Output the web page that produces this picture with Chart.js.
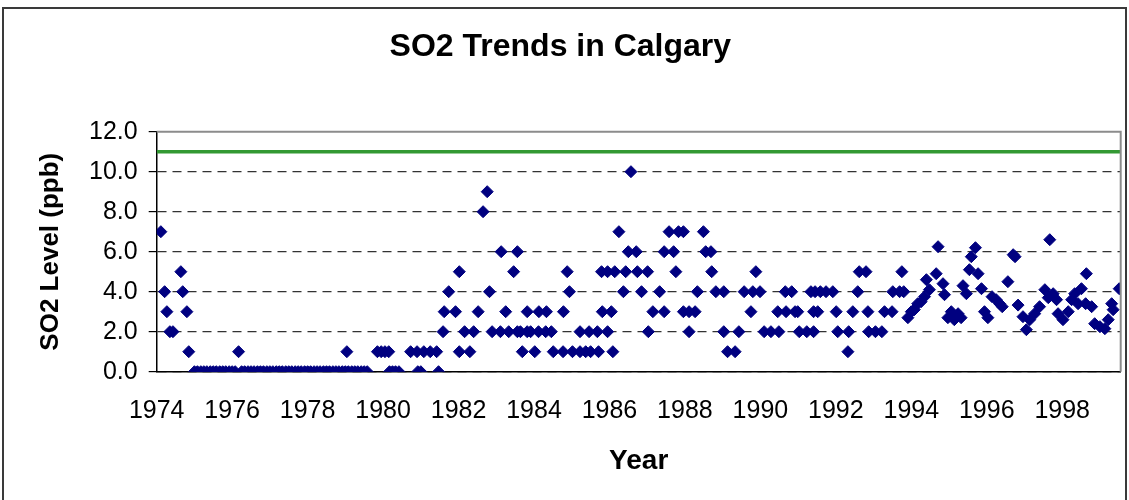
<!DOCTYPE html>
<html lang="en">
<head>
<meta charset="UTF-8" />
<title>SO2 Trends in Calgary</title>
<script src="https://cdn.jsdelivr.net/npm/chart.js@4"></script>
<style>
    body { margin: 0; background: #fff; }
    .chart-box { position: relative; width: 1129px; height: 500px; }
</style>
</head>
<body>
<div class="chart-box"><canvas id="so2Chart" width="1129" height="500"></canvas></div>
<script>
// sample dates (decimal years) and SO2 levels (ppb)
const years = [
    1974.11, 1974.21, 1974.27, 1974.35, 1974.43, 1974.64, 1974.69, 1974.80, 1974.85,
    1975.00, 1975.08, 1975.17, 1975.25, 1975.33, 1975.42, 1975.50, 1975.58, 1975.67, 1975.75, 1975.83, 1975.92,
    1976.00, 1976.08, 1976.17, 1976.25, 1976.33, 1976.42, 1976.50, 1976.58, 1976.67, 1976.75, 1976.83, 1976.92,
    1977.00, 1977.08, 1977.17, 1977.25, 1977.33, 1977.42, 1977.50, 1977.58, 1977.67, 1977.75, 1977.83, 1977.92,
    1978.00, 1978.08, 1978.17, 1978.25, 1978.33, 1978.42, 1978.50, 1978.58, 1978.67, 1978.75, 1978.83, 1978.92,
    1979.00, 1979.04, 1979.08, 1979.17, 1979.25, 1979.33, 1979.42, 1979.50, 1979.58,
    1979.85, 1979.95, 1980.05, 1980.15, 1980.17, 1980.25, 1980.33, 1980.42,
    1980.73, 1980.90, 1980.92, 1981.00, 1981.08, 1981.25, 1981.42, 1981.47,
    1981.59, 1981.62, 1981.74, 1981.92, 1982.02, 1982.02, 1982.16, 1982.30, 1982.40, 1982.52,
    1982.65, 1982.76, 1982.82, 1982.89, 1983.11, 1983.13, 1983.25, 1983.33, 1983.46, 1983.56,
    1983.56, 1983.64, 1983.69, 1983.82, 1983.82, 1983.91, 1984.02, 1984.12, 1984.13, 1984.31,
    1984.33, 1984.46, 1984.51, 1984.77, 1984.78, 1984.88, 1984.94, 1985.02, 1985.22, 1985.22,
    1985.37, 1985.46, 1985.50, 1985.68, 1985.71, 1985.79, 1985.81, 1985.95, 1985.95, 1986.05,
    1986.09, 1986.14, 1986.25, 1986.37, 1986.43, 1986.50, 1986.57, 1986.71, 1986.74, 1986.85,
    1987.01, 1987.03, 1987.15, 1987.33, 1987.45, 1987.45, 1987.58, 1987.70, 1987.76, 1987.83,
    1987.96, 1987.96, 1988.11, 1988.11, 1988.27, 1988.33, 1988.49, 1988.55, 1988.69, 1988.71,
    1988.82, 1989.03, 1989.03, 1989.13, 1989.33, 1989.43, 1989.57, 1989.75, 1989.80, 1989.88,
    1989.99, 1990.10, 1990.28, 1990.46, 1990.49, 1990.66, 1990.68, 1990.83, 1990.92, 1990.99,
    1991.03, 1991.23, 1991.34, 1991.41, 1991.41, 1991.45, 1991.52, 1991.59, 1991.74, 1991.92,
    1992.01, 1992.05, 1992.32, 1992.34, 1992.45, 1992.58, 1992.62, 1992.80, 1992.85, 1992.87,
    1993.05, 1993.22, 1993.29, 1993.49, 1993.51, 1993.69, 1993.75, 1993.80,
    1993.91, 1994.00, 1994.08, 1994.17, 1994.26, 1994.35, 1994.40, 1994.48, 1994.66, 1994.71,
    1994.84, 1994.88, 1994.97, 1995.06, 1995.14, 1995.24, 1995.32, 1995.37, 1995.46, 1995.54,
    1995.59, 1995.70, 1995.77, 1995.86, 1995.94, 1996.03, 1996.14, 1996.25, 1996.34, 1996.41,
    1996.56, 1996.70, 1996.75, 1996.83, 1996.96, 1997.05, 1997.14, 1997.27, 1997.40, 1997.54,
    1997.63, 1997.67, 1997.76, 1997.85, 1997.89, 1998.02, 1998.16, 1998.25, 1998.33, 1998.42,
    1998.51, 1998.64, 1998.62, 1998.78, 1998.86, 1999.00, 1999.13, 1999.22, 1999.31, 1999.35,
    1999.51
];
const so2Levels = [
    7, 4, 3, 2, 2, 5, 4, 3, 1,
    0, 0, 0, 0, 0, 0, 0, 0, 0, 0, 0, 0,
    0, 0, 1, 0, 0, 0, 0, 0, 0, 0, 0, 0,
    0, 0, 0, 0, 0, 0, 0, 0, 0, 0, 0, 0,
    0, 0, 0, 0, 0, 0, 0, 0, 0, 0, 0, 0,
    0, 1, 0, 0, 0, 0, 0, 0, 0,
    1, 1, 1, 1, 0, 0, 0, 0,
    1, 1, 0, 0, 1, 1, 1, 0,
    2, 3, 4, 3, 5, 1, 2, 1, 2, 3,
    8, 9, 4, 2, 2, 6, 3, 2, 5, 6,
    2, 2, 1, 3, 2, 2, 1, 2, 3, 2,
    3, 2, 1, 1, 3, 5, 4, 1, 1, 2,
    1, 2, 1, 2, 1, 5, 3, 2, 5, 3,
    1, 5, 7, 4, 5, 6, 10, 6, 5, 4,
    5, 2, 3, 4, 3, 6, 7, 6, 5, 7,
    7, 3, 3, 2, 3, 4, 7, 6, 6, 5,
    4, 4, 2, 1, 1, 2, 4, 3, 4, 5,
    4, 2, 2, 3, 2, 4, 3, 4, 3, 3,
    2, 2, 4, 2, 3, 4, 3, 4, 4, 4,
    3, 2, 1, 2, 3, 4, 5, 5, 3, 2,
    2, 2, 3, 3, 4, 4, 5, 4,
    2.7, 3.0, 3.1, 3.4, 3.5, 3.75, 4.6, 4.1, 4.9, 6.25,
    4.4, 3.85, 2.7, 3.0, 2.6, 2.9, 2.7, 4.3, 3.9, 5.1,
    5.75, 6.2, 4.9, 4.15, 3.0, 2.7, 3.75, 3.6, 3.4, 3.25,
    4.5, 5.85, 5.75, 3.33, 2.75, 2.1, 2.6, 2.9, 3.25, 4.1,
    3.7, 6.6, 3.9, 3.6, 2.9, 2.6, 3.0, 3.6, 3.9, 3.4,
    4.15, 4.9, 3.4, 3.25, 2.4, 2.25, 2.15, 2.6, 3.4, 3.1,
    4.15
];
const objectiveLevel = 11;
const yearRange = [1974, 1999.55];

const points = years.map((yr, i) => ({ x: yr, y: so2Levels[i] }));
const fontFamily = "'Liberation Sans', Arial, sans-serif";

// outer chart frame + grey plot-area border on top/right
const framePlugin = {
    id: "frame",
    afterDraw(chart) {
        const { ctx, chartArea: a } = chart;
        ctx.save();
        ctx.strokeStyle = "#8c8c8c";
        ctx.lineWidth = 2;
        ctx.beginPath();
        ctx.moveTo(a.left, a.top);
        ctx.lineTo(a.right, a.top);
        ctx.lineTo(a.right, a.bottom);
        ctx.stroke();
        ctx.strokeStyle = "#3a3a3a";
        ctx.lineWidth = 2;
        ctx.strokeRect(3, 8, 1123, 520);
        ctx.restore();
    },
};

new Chart(document.getElementById("so2Chart"), {
    type: "scatter",
    data: {
        datasets: [
            {
                label: "SO2",
                data: points,
                pointStyle: "rectRot",
                pointRadius: 6,
                borderWidth: 1,
                backgroundColor: "#000080",
                borderColor: "#000080",
            },
            {
                type: "line",
                label: "Objective",
                data: [
                    { x: yearRange[0], y: objectiveLevel },
                    { x: yearRange[1], y: objectiveLevel },
                ],
                borderColor: "#339933",
                borderWidth: 3.5,
                pointRadius: 0,
                fill: false,
            },
        ],
    },
    plugins: [framePlugin],
    options: {
        responsive: false,
        animation: false,
        layout: { padding: { left: 0, right: 8.3, top: 0, bottom: 0 } },
        plugins: {
            legend: { display: false },
            tooltip: { enabled: false },
            title: {
                display: true,
                text: "SO2 Trends in Calgary",
                color: "#000",
                font: { family: fontFamily, size: 32, weight: "bold" },
                padding: { top: 28, bottom: 65.3 },
            },
        },
        scales: {
            x: {
                type: "linear",
                min: yearRange[0],
                max: yearRange[1],
                afterFit: (s) => { s.height = 128.3; },
                grid: { display: false, drawTicks: false },
                border: { color: "#000", width: 1.5 },
                ticks: {
                    stepSize: 2,
                    includeBounds: false,
                    color: "#000",
                    padding: 24,
                    maxRotation: 0,
                    autoSkip: false,
                    font: { family: fontFamily, size: 25 },
                    callback: (v) => String(v),
                },
                title: {
                    display: true,
                    text: "Year",
                    color: "#000",
                    font: { family: fontFamily, size: 28, weight: "bold" },
                    padding: { top: 0, bottom: 22 },
                },
            },
            y: {
                min: 0,
                max: 12,
                afterFit: (s) => { s.width = 156.7; },
                grid: {
                    color: (c) => (c.tick && c.tick.value === 12 ? "rgba(0,0,0,0)" : "#333"),
                    lineWidth: 1.2,
                    tickColor: "#000",
                    tickLength: 8,
                },
                border: { color: "#000", width: 1.5, dash: [9, 6] },
                ticks: {
                    stepSize: 2,
                    color: "#000",
                    padding: 11,
                    font: { family: fontFamily, size: 25 },
                    callback: (v) => v.toFixed(1),
                },
                title: {
                    display: true,
                    text: "SO2 Level (ppb)",
                    color: "#000",
                    font: { family: fontFamily, size: 26, weight: "bold" },
                    padding: { top: 35, bottom: 0 },
                },
            },
        },
    },
});
</script>
</body>
</html>
